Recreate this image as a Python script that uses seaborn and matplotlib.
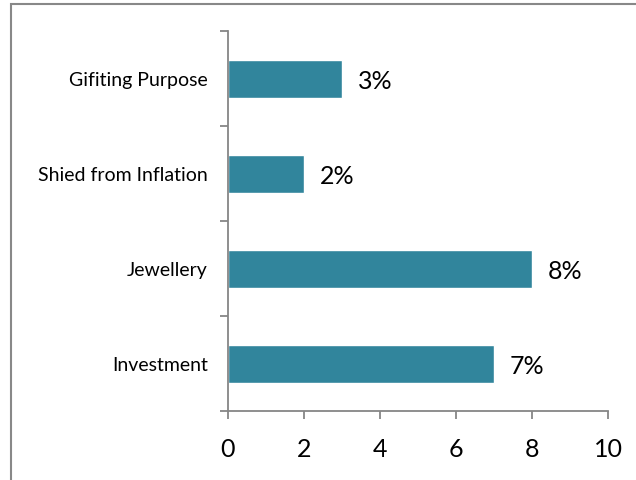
import matplotlib
matplotlib.use("Agg")
import matplotlib.pyplot as plt
import seaborn as sns
import pandas as pd
from matplotlib.patches import Rectangle

categories = ["Gifiting Purpose", "Shied from Inflation", "Jewellery", "Investment"]
values = [3, 2, 8, 7]
value_labels = ["3%", "2%", "8%", "7%"]
x_ticks = [0, 2, 4, 6, 8, 10]

sns.set_theme(style="white")
plt.rcParams["font.family"] = ["Lato", "DejaVu Sans"]

W, H = 636, 481
fig = plt.figure(figsize=(W / 100, H / 100), dpi=100)
ax = fig.add_axes([228 / W, 1 - 412 / H, 380 / W, 380 / H])

df = pd.DataFrame({"category": categories, "value": values})
sns.barplot(data=df, x="value", y="category", orient="h", color="#31859C",
            width=0.4, saturation=1, ax=ax)

ax.set_xlim(0, 10)
ax.set_ylim(len(categories) - 0.5, -0.5)
ax.set_xticks(x_ticks)
ax.set_xticklabels([str(t) for t in x_ticks], fontsize=18, color="#000000")
ax.set_xlabel("")
ax.set_ylabel("")

# category labels centred on bars, tick marks on the band boundaries
ax.set_yticks(range(len(categories)))
ax.set_yticklabels(categories, fontsize=14, color="#000000")
ax.set_yticks([i - 0.5 for i in range(len(categories) + 1)], minor=True)
ax.tick_params(axis="y", which="major", length=0, pad=14.5)
ax.tick_params(axis="y", which="minor", length=6, width=1.3, color="#868686", left=True)
ax.tick_params(axis="x", length=6, width=1.3, color="#868686", bottom=True, pad=13)

for side in ("top", "right"):
    ax.spines[side].set_visible(False)
for side in ("left", "bottom"):
    ax.spines[side].set_color("#868686")
    ax.spines[side].set_linewidth(1.3)

for i, (v, lab) in enumerate(zip(values, value_labels)):
    ax.annotate(lab, xy=(v, i), xytext=(16, -2), textcoords="offset pixels",
                va="center", ha="left", fontsize=18, color="#000000")

# outer chart frame
fig.patches.append(Rectangle((11 / W, -0.1), 1.2, 1 - 5 / H + 0.1,
                             transform=fig.transFigure, fill=False,
                             edgecolor="#888888", linewidth=1.5))

fig.savefig("out.png", dpi=100)
